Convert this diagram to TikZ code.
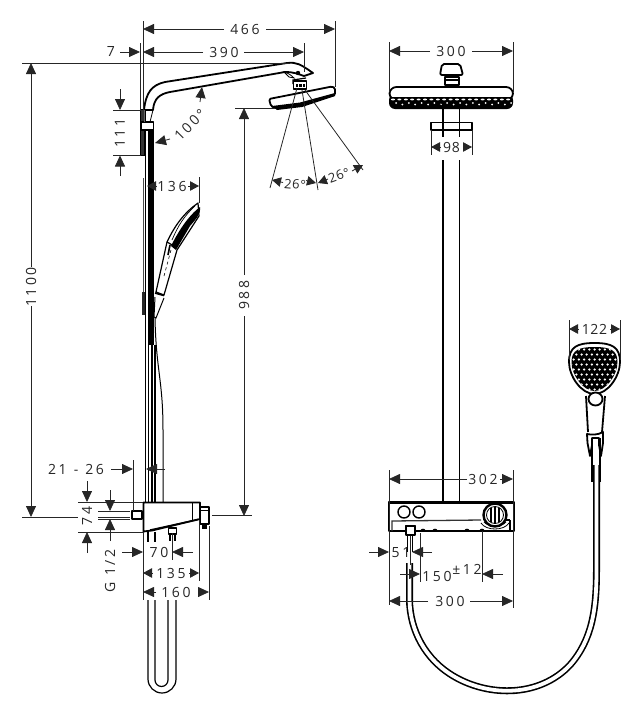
\documentclass[tikz,border=0pt]{standalone}
\usepackage{fontspec}
\usetikzlibrary{arrows.meta}
\newfontfamily\dimf[LetterSpace=18]{Open Sans}
\newfontfamily\dimtight[LetterSpace=5]{Open Sans}
\tikzset{
 thin line/.style={line width=0.8pt,black!85},
 arrowline/.style={line width=0.8pt,black!85,-{Triangle[length=11pt,width=10pt]}},
 tightarrow/.style={line width=0.8pt,black!85,-{Triangle[length=9pt,width=9.5pt]}},
 dimtext/.style={font=\dimf\fontsize{14}{14}\selectfont,inner sep=0pt,text=black!85},
 dimsmall/.style={font=\dimtight\fontsize{13}{13}\selectfont,inner sep=0pt,text=black!85},
 heavy/.style={line width=1.8pt,black,line join=round},
 medium/.style={line width=1.2pt,black,line join=round},
 hosepipe/.style={line width=1.6pt,black,double=white,double distance=3.8pt},
}
\newcommand{\arw}[2]{\draw[arrowline] #1 -- #2;}
\newcommand{\tarw}[2]{\draw[tightarrow] #1 -- #2;}
\newcommand{\thn}[2]{\draw[thin line] #1 -- #2;}
\begin{document}
\begin{tikzpicture}[x=1pt,y=-1pt]
\useasboundingbox (0,0) rectangle (643,720);
% ---------- LEFT VIEW: rail
\draw[line width=0.8pt,black!70] (143,178) -- (143,292);
\draw[line width=2.2pt,black!85] (143.5,292) -- (143.5,315);
\draw[line width=1pt] (145.5,130) -- (145.5,502);
\draw[line width=6pt] (151,130) -- (151,345);
\draw[line width=1.7pt] (148.5,345) -- (148.5,502);
\draw[line width=1.7pt] (151.8,345) -- (151.8,502);
\draw[line width=1.7pt] (155.2,345) -- (155.2,502);
\draw[line width=1pt] (155,318) .. controls (156,370) and (163,380) .. (163,430) -- (163,502);
% arm
\draw[heavy,fill=white] (144,110) .. controls (146,92) and (152,85) .. (165,82) -- (287,63) .. controls (297,62) and (300,64) .. (313,73) -- (304,76)
 .. controls (298,74) and (294,72) .. (285,72) -- (170,92) .. controls (160,94) and (154,98) .. (153,110) -- cycle;
\draw[line width=0.8pt] (150,122) -- (153,110);
\draw[line width=0.8pt,fill=white] (284,72) .. controls (288,73) and (291,75) .. (294,78) -- (289,77) -- cycle;
\fill (298,73) circle (2.2pt);
\draw[line width=1.2pt] (293,84) -- (293,80) -- (306,78);
% bracket
\draw[line width=1.2pt,fill=black!80] (140.5,109.5) rectangle (145,155.5);
\draw[medium,fill=white] (141,122) rectangle (153.5,130);
\draw[line width=0.7pt,black!60] (144,110) -- (144,122);
% shower head, side
\draw[heavy,fill=white] (293.5,81) rectangle (306.5,89);
\fill (296,84) rectangle (305,87);
\draw[white,line width=0.7pt] (298,84) -- (298,87) (302,84) -- (302,87);
\draw[heavy,fill=white,rounded corners=1.5pt] (269,99) -- (332,86.5) -- (335,88) -- (335,95) -- (300,105) -- (275,108) -- (271,106) -- cycle;
\fill (272,106) -- (300,102.5) -- (335,93) -- (335,96) -- (302,107) -- (277,110) -- cycle;
% hand shower, side
\draw[medium,fill=white] (198,203) .. controls (185,212) and (175,225) .. (167,242) -- (156,292) -- (164,295) -- (177,250) -- (199,216) -- cycle;
\fill (200,207) .. controls (201,215) and (195,220) .. (190,226) -- (176,250) -- (171,246) .. controls (178,232) and (188,216) .. cycle;
\draw[line width=0.7pt] (195,206) .. controls (184,216) and (178,226) .. (172,240);
\draw[medium] (167,242) -- (174,246);
\draw[line width=1.6pt] (170,245) -- (168,255);
\draw[line width=0.6pt,dashed] (171,250) -- (164,276);
\draw[line width=1.7pt] (155,293) -- (164,295.5);
\draw[line width=1pt] (155,297) -- (154,317) -- (156,318) -- (164,298);
% bottom thermostat side
\draw[medium,fill=white] (132,511) rectangle (142,519);
\draw[medium,fill=white] (200,507) rectangle (209,524);
\draw[line width=0.7pt] (200,510) -- (208,510);
\fill (202,524) rectangle (207,529);
\draw[heavy,fill=white] (143.5,502.5) -- (200,502.5) -- (200,519) -- (152,530.5) -- (143.5,531.5) -- cycle;
\draw[line width=0.7pt] (192,503) -- (192,520);
\draw[line width=1.4pt] (150,530) -- (198,519.5);
\draw[line width=1.2pt] (148,532) -- (148,542) (155,532) -- (155,542);
\draw[medium,fill=white] (168.5,528) rectangle (176.5,534);
\draw[line width=1.2pt] (170,534) -- (170,541) (175,534) -- (175,541);
% hose loop
\draw[line width=1.2pt] (148,600) -- (148,679) arc[start angle=180,end angle=360,radius=14pt] -- (176,600);
\draw[line width=1.2pt] (155,600) -- (155,680) arc[start angle=180,end angle=360,radius=6.5pt] -- (168,600);
% ---------- LEFT VIEW dims
\thn{(143,21)}{(143,110)} \thn{(335,21)}{(335,87)}
\arw{(224,29)}{(143,29)} \arw{(266,29)}{(335,29)}
\node[dimtext] (d466) at (245,29) {466};
\thn{(304,43)}{(304,72)} \thn{(140.5,43)}{(140.5,110)}
\arw{(203,52)}{(143,52)} \arw{(244,52)}{(304,52)}
\node[dimtext] (d390) at (224,52) {390};
\arw{(120,52)}{(140,52)}
\node[dimtext] (d7) at (111,52) {7};
\thn{(22,63)}{(290,63)}
\arw{(31,267)}{(31,63)} \arw{(31,306)}{(31,517)}
\node[dimtext,rotate=90] (d1100) at (31,287) {1100};
\thn{(22,517)}{(78,517)} \thn{(98,517)}{(130,517)}
\thn{(113,110)}{(141,110)} \thn{(113,155.5)}{(141,155.5)}
\arw{(120,89)}{(120,110)} \arw{(120,176)}{(120,155.5)}
\node[dimtext,rotate=90] (d111) at (120,133) {111};
\arw{(170,139)}{(155,143)} \arw{(200,102)}{(202,87)}
\node[dimtext,rotate=45] (d100) at (190,125) {100°};
\thn{(235,108)}{(275,108)}
\arw{(244,275)}{(244,108)} \arw{(244,316)}{(244,516)}
\node[dimtext,rotate=90] (d988) at (244,295) {988};
\thn{(212,515)}{(252,515)}
\thn{(297,88)}{(270,188)} \thn{(302,90)}{(318,190)} \thn{(305,90)}{(363,170)}
\tarw{(283,182.5)}{(272,180)} \tarw{(306,180.5)}{(316,183)}
\node[dimsmall,rotate=-5] (d26a) at (295,184.5) {26°};
\tarw{(328,179)}{(318,183)} \tarw{(352,171)}{(363,165)}
\node[dimsmall,rotate=20] (d26b) at (339,175.5) {26°};
\thn{(199,177)}{(199,203)}
\tarw{(156,186)}{(147,186)} \tarw{(188,186)}{(199,186)}
\node[dimtext] (d136) at (172,186) {136};
\thn{(133,460)}{(133,511)}
\arw{(111,469)}{(133,469)}
\draw[thin line] (165,469) -- (156,469);
\arw{(156,469)}{(146,469)}
\node[dimtext] (d2126) at (76,469) {21\,\,\,-\,\,\,26};
\thn{(78,502)}{(143,502)} \thn{(78,532)}{(143,532)}
\arw{(87,481)}{(87,502)} \arw{(87,553)}{(87,532)}
\node[dimtext,rotate=90] (d74) at (87,516) {74};
\thn{(98,511)}{(130,511)} \thn{(98,519)}{(130,519)}
\arw{(110,490)}{(110,511)} \arw{(110,541)}{(110,519)}
\node[dimtext,rotate=90] (dg) at (110,571) {G 1/2};
\thn{(143,532)}{(143,600)} \thn{(172,533)}{(172,560)}
\thn{(199,520)}{(199,581)} \thn{(209,526)}{(209,600)}
\arw{(122,552)}{(143,552)} \arw{(193,552)}{(172,552)}
\node[dimtext] (d70) at (159,552) {70};
\tarw{(153,573)}{(143,573)} \tarw{(189,573)}{(199,573)}
\node[dimtext] (d135) at (171,573) {135};
\arw{(156,592)}{(143,592)} \arw{(198,592)}{(209,592)}
\node[dimtext] (d160) at (176,592) {160};
% ---------- RIGHT VIEW
\draw[hosepipe] (409.5,563) -- (409.5,600) .. controls (410,630) and (425,660) .. (455,677) .. controls (490,697) and (540,697) .. (570,665) .. controls (592,640) and (596.5,610) .. (596.5,570) -- (596.5,465);
\draw[line width=1.1pt] (407.5,535) -- (407.5,552) (412.5,535) -- (412.5,552);
% stem
\draw[heavy] (443,108) -- (443,137) (459.5,108) -- (459.5,137);
\draw[heavy] (443,160) -- (443,502) (459.5,160) -- (459.5,502);
\draw[heavy] (431,122.5) rectangle (472,130);
% overhead head front
\draw[heavy,fill=white,rounded corners=2pt] (442,64) -- (460,64) -- (463,75) -- (440,75) -- cycle;
\draw[medium,fill=white] (445,77) rectangle (459,85);
\draw[line width=1.4pt] (445,80) -- (459,80);
\fill[black,rounded corners=6pt] (389,94) rectangle (513,109);
\draw[heavy,fill=white,rounded corners=7pt] (389.5,100) -- (389.5,87) -- (513,87) -- (513,100) -- cycle;
\fill (391,97) rectangle (511.5,104);
\foreach \i in {0,...,18}{
 \fill[white] ({393+\i*6.4},{99.5}) ellipse (2pt and 0.9pt);
 \fill[white] ({396+\i*6.4},{103+mod(\i,2)*1.5}) circle (1pt);}
\fill (440,106) circle (1.8pt) (462,106) circle (1.8pt);
% right thermostat
\draw[heavy,fill=white] (389,502) rectangle (514,531);
\draw[line width=2.4pt] (389,502.5) -- (514,502.5);
\draw[line width=1.3pt,black!80] (392,531) -- (392,521) -- (481,520);
\draw[line width=1.2pt] (510,520) -- (510,531) (505,520) -- (510,520);
\draw[line width=1.4pt] (404,512) circle (6pt) (419,512) circle (6pt);
\draw[line width=2.4pt,fill=white] (495,515) circle (11.5pt);
\draw[line width=0.8pt] (495,515) circle (8.5pt);
\draw[line width=1.4pt] (491,508) -- (491,522) (495,507) -- (495,523) (499,508) -- (499,522);
\draw[line width=0.8pt] (481,523) .. controls (486,531) and (504,531) .. (509,523);
\draw[line width=0.8pt] (484,522) .. controls (488,527) and (502,527) .. (506,522);
\foreach \b in {423,435,467,482}{\fill (\b,530) ellipse (2.2pt and 1.3pt);}
\draw[medium,fill=white] (406,525.5) rectangle (415,535);
\draw[line width=2.2pt] (406,526) -- (415,526);
% hand shower, front
\draw[heavy,fill=white] (594.5,343) .. controls (612,343) and (620,347) .. (620,362) .. controls (620,376) and (608,394) .. (594.5,394) .. controls (581,394) and (569,376) .. (569,362) .. controls (569,347) and (577,343) .. cycle;
\begin{scope}
\path[clip] (594.5,347) .. controls (610,347) and (617.5,350) .. (617.5,362) .. controls (617.5,375) and (606,391) .. (594.5,391) .. controls (583,391) and (571.5,375) .. (571.5,362) .. controls (571.5,350) and (579,347) .. cycle;
\fill (565,340) rectangle (625,395);
\foreach \r in {0,...,8}{\foreach \c in {-5,...,5}{
 \pgfmathsetmacro{\xx}{594.5+\c*5.2+mod(\r,2)*2.6}
 \pgfmathsetmacro{\yy}{349.5+\r*5}
 \fill[white] (\xx,\yy) circle (1.25pt);}}
\end{scope}
\draw[heavy] (586,396) -- (588,432) (605,396) -- (602,432);
\draw[heavy,fill=white] (595.5,399) ellipse (7pt and 6.5pt);
\draw[heavy,fill=white] (587,434) -- (587.5,443) -- (590,456) -- (592,445) -- (592,438) -- (599,438) -- (599,445) -- (601,456) -- (603,443) -- (603,432) .. controls (598,435) and (592,435) .. (587,434) -- cycle;
\draw[line width=1.3pt] (592,438) -- (592,482) (600,438) -- (600,482);
% ---------- RIGHT VIEW dims
\thn{(389,42)}{(389,92)} \thn{(513,42)}{(513,92)}
\arw{(430,51)}{(389,51)} \arw{(472,51)}{(513,51)}
\node[dimtext] (d300a) at (451,51) {300};
\thn{(431,130)}{(431,155)} \thn{(472,130)}{(472,155)}
\tarw{(440,147)}{(431,147)} \tarw{(463,147)}{(472,147)}
\node[dimsmall,font=\dimtight\fontsize{14}{14}\selectfont] (d98) at (451.5,147) {98};
\thn{(389,470)}{(389,605)} \thn{(513,470)}{(513,608)}
\arw{(467,479)}{(389,479)} \arw{(500,479)}{(513,479)}
\node[dimtext] (d302) at (483,479) {302};
\arw{(369,552)}{(389,552)} \arw{(432,552)}{(412,552)}
\node[dimtext] (d51) at (401,553) {51};
\thn{(410,536)}{(410,565)}
\thn{(420,533)}{(420,582)} \thn{(482,531)}{(482,582)}
\arw{(400,574)}{(420,574)} \arw{(503,574)}{(482,574)}
\node[dimtext] (d150) at (437,576) {150};
\node[dimtext] (d12) at (467,569) {±12};
\arw{(428,601)}{(389,601)} \arw{(470,601)}{(513,601)}
\node[dimtext] (d300b) at (450,601) {300};
\thn{(569,320)}{(569,360)} \thn{(620,320)}{(620,360)}
\tarw{(579,329)}{(569,329)} \tarw{(610,329)}{(620,329)}
\node[dimsmall,font=\dimtight\fontsize{14}{14}\selectfont] (d122) at (594.5,329) {122};
\end{tikzpicture}
\end{document}
